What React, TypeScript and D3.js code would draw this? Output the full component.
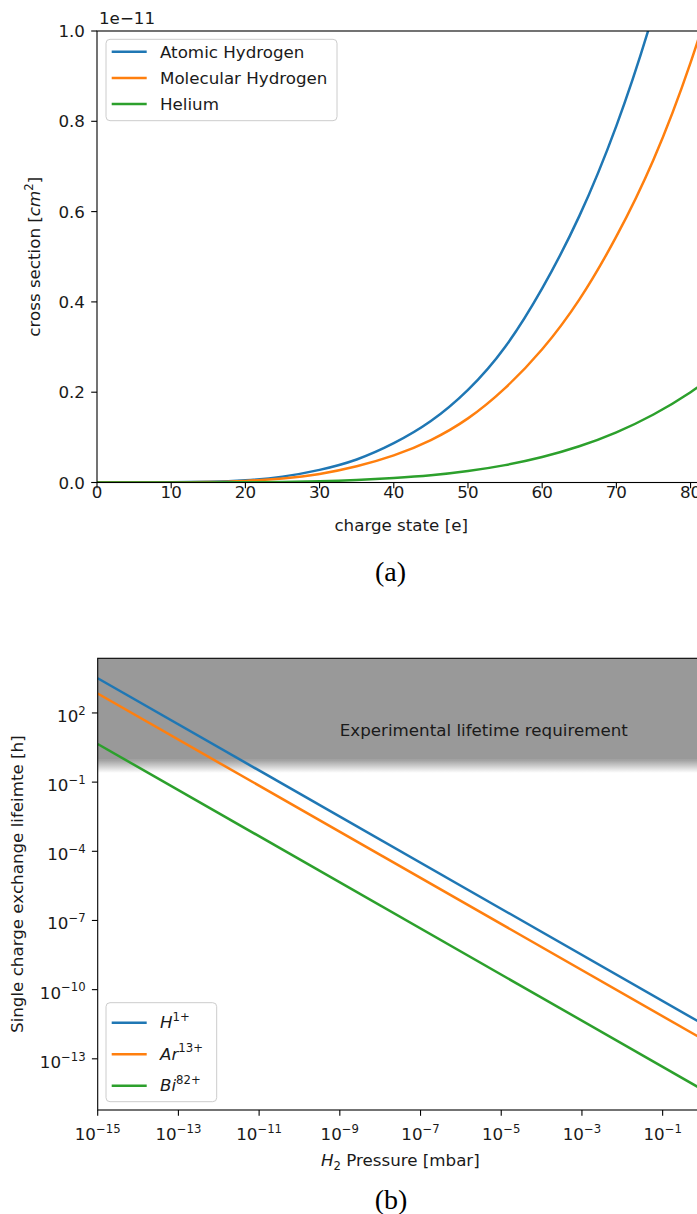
import React from 'react';
import * as d3 from 'd3';

// ---- Panel (a): charge-exchange cross section vs. charge state (units of 1e-11 cm^2)
const chargeStates = [0, 5, 10, 15, 20, 25, 30, 35, 40, 45, 50, 55, 60, 65, 70, 75, 80, 85];
const atomicHydrogen = [0, 0.00002, 0.0003, 0.0016, 0.005, 0.013, 0.028, 0.051, 0.087, 0.136, 0.205, 0.3, 0.43, 0.59, 0.79, 1.04, 1.35, 1.71];
const molecularHydrogen = [0, 0.00002, 0.0002, 0.0011, 0.0036, 0.009, 0.019, 0.036, 0.06, 0.094, 0.142, 0.209, 0.295, 0.405, 0.545, 0.715, 0.93, 1.19];
const helium = [0, 0.000005, 0.00006, 0.0002, 0.0005, 0.0012, 0.0027, 0.0055, 0.0099, 0.0159, 0.0253, 0.0385, 0.0564, 0.0802, 0.1111, 0.1506, 0.2, 0.258];
const chargeTicks = [0, 10, 20, 30, 40, 50, 60, 70, 80];
const crossSectionTicks = [0, 0.2, 0.4, 0.6, 0.8, 1.0];
const seriesA = [
  { name: 'Atomic Hydrogen', values: atomicHydrogen, color: '#1f77b4' },
  { name: 'Molecular Hydrogen', values: molecularHydrogen, color: '#ff7f0e' },
  { name: 'Helium', values: helium, color: '#2ca02c' },
];

// ---- Panel (b): single charge exchange lifetime vs. H2 pressure
const pressures = [1e-15, 1e0];
const lifetimeH = [3.2e3, 3.2e-12];
const lifetimeAr = [7.0e2, 7.0e-13];
const lifetimeBi = [4.5e0, 4.5e-15];
const pressureTickExponents = [-15, -13, -11, -9, -7, -5, -3, -1];
const lifetimeTickExponents = [2, -1, -4, -7, -10, -13];
const requirementLifetime = 1; // hours
const requirementFadeEnd = 0.25;
const seriesB = [
  { base: 'H', sup: '1+', values: lifetimeH, color: '#1f77b4' },
  { base: 'Ar', sup: '13+', values: lifetimeAr, color: '#ff7f0e' },
  { base: 'Bi', sup: '82+', values: lifetimeBi, color: '#2ca02c' },
];

const FONT = '"DejaVu Sans", sans-serif';
const FS = 16.7;
const SUP = 11.7;
const TICK = 5.8;
const TEXT = '#1a1a1a';

export default function App() {
  // panel (a) geometry
  const ax = d3.scaleLinear().domain([0, 82]).range([97, 705.4]);
  const ay = d3.scaleLinear().domain([0, 1]).range([482.5, 31]);
  // panel (b) geometry
  const bx = d3.scaleLog().domain([1e-15, 1e0]).range([97.7, 703]);
  const by = d3.scaleLog().domain([Math.pow(10, -15.22), Math.pow(10, 4.37)]).range([1110, 658.3]);

  const lineA = (vals: number[]) =>
    d3.line<number>()
      .x((_, i) => ax(chargeStates[i]))
      .y((d) => ay(d))
      .curve(d3.curveNatural)(vals) || '';
  const lineB = (vals: number[]) =>
    d3.line<number>()
      .x((_, i) => bx(pressures[i]))
      .y((d) => by(d))(vals) || '';

  const [aL, aR] = ax.range();
  const [aB, aT] = ay.range();
  const [bL, bR] = bx.range();
  const [bB, bT] = by.range();

  return (
    <svg
      width={697}
      height={1214}
      style={{ position: 'absolute', left: 0, top: 0, background: '#fff' }}
      fontFamily={FONT}
      fontSize={FS}
    >
      <defs>
        <clipPath id="clipA">
          <rect x={aL} y={aT} width={aR - aL} height={aB - aT} />
        </clipPath>
        <clipPath id="clipB">
          <rect x={bL} y={bT} width={bR - bL} height={bB - bT} />
        </clipPath>
        <linearGradient id="fade" x1="0" y1="0" x2="0" y2="1">
          <stop offset="0" stopColor="#999999" stopOpacity={1} />
          <stop offset="1" stopColor="#999999" stopOpacity={0} />
        </linearGradient>
      </defs>

      {/* ================= panel (a) ================= */}
      <g clipPath="url(#clipA)">
        {seriesA.map((s) => (
          <path key={s.name} d={lineA(s.values)} fill="none" stroke={s.color} strokeWidth={2.5} />
        ))}
      </g>
      <rect x={aL} y={aT} width={aR - aL} height={aB - aT} fill="none" stroke="#000" strokeWidth={1.1} />
      {chargeTicks.map((t) => (
        <g key={t}>
          <line x1={ax(t)} x2={ax(t)} y1={aB} y2={aB + TICK} stroke="#000" strokeWidth={1.1} />
          <text x={ax(t)} y={aB + 15} textAnchor="middle" fill={TEXT}>{t}</text>
        </g>
      ))}
      {crossSectionTicks.map((t) => (
        <g key={t}>
          <line x1={aL - TICK} x2={aL} y1={ay(t)} y2={ay(t)} stroke="#000" strokeWidth={1.1} />
          <text x={aL - 12} y={ay(t) + 6} textAnchor="end" fill={TEXT}>{t.toFixed(1)}</text>
        </g>
      ))}
      <text x={99} y={24} fill={TEXT}>1e−11</text>
      <text x={(aL + aR) / 2} y={531} textAnchor="middle" fill={TEXT}>charge state [e]</text>
      <text transform={`translate(40,${(aT + aB) / 2}) rotate(-90)`} textAnchor="middle" fill={TEXT}>
        cross section [<tspan fontStyle="italic">cm</tspan>
        <tspan dy={-7} fontSize={SUP}>2</tspan>
        <tspan dy={7}>]</tspan>
      </text>
      {/* legend (a) */}
      <rect x={106} y={39.3} width={231} height={81.4} rx={4} fill="#fff" fillOpacity={0.8} stroke="#cccccc" strokeWidth={1} />
      {seriesA.map((s, i) => {
        const yy = 51.7 + i * 26.2;
        return (
          <g key={s.name}>
            <line x1={111.7} x2={146.7} y1={yy} y2={yy} stroke={s.color} strokeWidth={2.5} />
            <text x={160} y={yy + 6} fill={TEXT}>{s.name}</text>
          </g>
        );
      })}
      <text x={390.6} y={581} textAnchor="middle" fontFamily='"Liberation Serif", "Times New Roman", serif' fontSize={28} fill="#000">(a)</text>

      {/* ================= panel (b) ================= */}
      <rect x={bL} y={bT} width={bR - bL} height={by(requirementLifetime) - bT} fill="#999999" />
      <rect
        x={bL}
        y={by(requirementLifetime)}
        width={bR - bL}
        height={by(requirementFadeEnd) - by(requirementLifetime)}
        fill="url(#fade)"
      />
      <text x={bx(1e-9)} y={by(10)} fill={TEXT}>Experimental lifetime requirement</text>
      <g clipPath="url(#clipB)">
        {seriesB.map((s) => (
          <path key={s.base} d={lineB(s.values)} fill="none" stroke={s.color} strokeWidth={2.5} />
        ))}
      </g>
      <rect x={bL} y={bT} width={bR - bL} height={bB - bT} fill="none" stroke="#000" strokeWidth={1.1} />
      {pressureTickExponents.map((e) => (
        <g key={e}>
          <line x1={bx(Math.pow(10, e))} x2={bx(Math.pow(10, e))} y1={bB} y2={bB + TICK} stroke="#000" strokeWidth={1.1} />
          <text x={bx(Math.pow(10, e))} y={1140} textAnchor="middle" fill={TEXT}>
            10<tspan dy={-7.3} fontSize={SUP}>{e < 0 ? '−' + Math.abs(e) : String(e)}</tspan>
          </text>
        </g>
      ))}
      {lifetimeTickExponents.map((e) => (
        <g key={e}>
          <line x1={bL - TICK} x2={bL} y1={by(Math.pow(10, e))} y2={by(Math.pow(10, e))} stroke="#000" strokeWidth={1.1} />
          <text x={bL - 12} y={by(Math.pow(10, e)) + 9} textAnchor="end" fill={TEXT}>
            10<tspan dy={-7.3} fontSize={SUP}>{e < 0 ? '−' + Math.abs(e) : String(e)}</tspan>
          </text>
        </g>
      ))}
      <text x={(bL + bR) / 2} y={1166} textAnchor="middle" fill={TEXT}>
        <tspan fontStyle="italic">H</tspan>
        <tspan dy={3.5} fontSize={SUP}>2</tspan>
        <tspan dy={-3.5}> Pressure [mbar]</tspan>
      </text>
      <text transform={`translate(23,${(bT + bB) / 2}) rotate(-90)`} textAnchor="middle" fill={TEXT}>
        Single charge exchange lifeimte [h]
      </text>
      {/* legend (b) */}
      <rect x={106} y={1002.7} width={110.7} height={99} rx={4} fill="#fff" fillOpacity={0.8} stroke="#cccccc" strokeWidth={1} />
      {seriesB.map((s, i) => {
        const yy = 1022.7 + i * 31.5;
        return (
          <g key={s.base}>
            <line x1={111.7} x2={146.7} y1={yy} y2={yy} stroke={s.color} strokeWidth={2.5} />
            <text x={160} y={yy + 5.7} fill={TEXT}>
              <tspan fontStyle="italic">{s.base}</tspan>
              <tspan dy={-7.5} fontSize={SUP}>{s.sup}</tspan>
            </text>
          </g>
        );
      })}
      <text x={391} y={1209} textAnchor="middle" fontFamily='"Liberation Serif", "Times New Roman", serif' fontSize={28} fill="#000">(b)</text>
    </svg>
  );
}
